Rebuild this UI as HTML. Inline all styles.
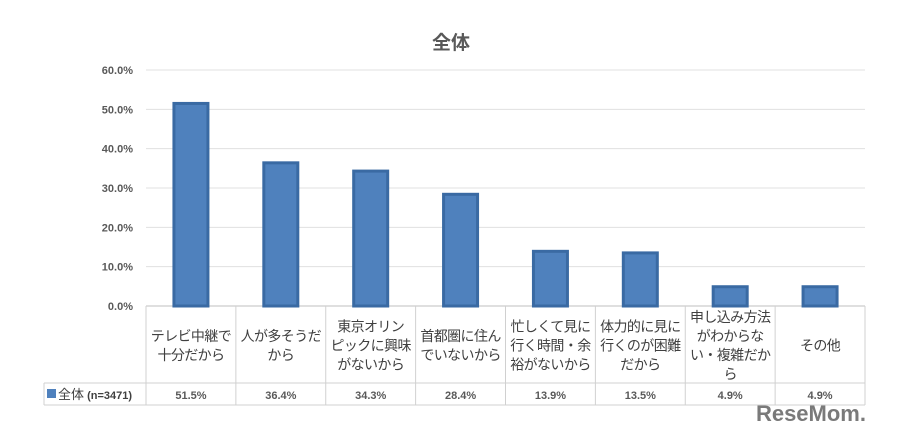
<!DOCTYPE html>
<html><head><meta charset="utf-8"><style>
body{margin:0;background:#fff;width:916px;height:434px;overflow:hidden;font-family:"Liberation Sans","Noto Sans CJK JP",sans-serif;}
svg text{font-family:"Liberation Sans","Noto Sans CJK JP",sans-serif;}
</style></head><body>
<svg id="c" width="916" height="434">
<text x="451" y="49" text-anchor="middle" font-size="19" font-weight="bold" fill="#595959">全体</text>
<g id="grid"></g><g id="bars"></g><g id="table"></g>
<text x="866" y="421" text-anchor="end" font-size="22" font-weight="bold" fill="#7a7a7a">ReseMom.</text>
</svg>
<script>
const categories=[["テレビ中継で","十分だから"],["人が多そうだ","から"],["東京オリン","ピックに興味","がないから"],["首都圏に住ん","でいないから"],["忙しくて見に","行く時間・余","裕がないから"],["体力的に見に","行くのが困難","だから"],["申し込み方法","がわからな","い・複雑だか","ら"],["その他"]];
const values=[51.5,36.4,34.3,28.4,13.9,13.5,4.9,4.9];
const ticks=[0,10,20,30,40,50,60];
const seriesName="全体";
const ns="http://www.w3.org/2000/svg";
const x0=146,x1=865,y0=306,yTop=70,maxV=60;
const cw=(x1-x0)/categories.length;
const y=v=>y0-(v/maxV)*(y0-yTop);
const xc=i=>x0+cw*(i+0.5);
function mk(t,a,p){const e=document.createElementNS(ns,t);for(const k in a)e.setAttribute(k,a[k]);p.appendChild(e);return e;}
const g=document.getElementById('grid'),b=document.getElementById('bars'),tb=document.getElementById('table');
ticks.forEach(t=>{
 const l=mk('line',{x1:x0,x2:x1,y1:y(t),y2:y(t),stroke:t==0?'#bfbfbf':'#e0e0e0'},g);
 
 
 const tx=mk('text',{x:133,y:y(t)+4,'text-anchor':'end','font-size':11,'font-weight':'bold',fill:'#595959'},g);
 tx.textContent=t.toFixed(1)+'%';
 
 
});
values.forEach((v,i)=>{
 const r=mk('rect',{x:xc(i)-17,y:y(v),width:34,height:y0-y(v),fill:'#4f81bd',stroke:'#3a6aa3','stroke-width':3},b);
 
 
});
const ty1=383,ty2=405;
mk('line',{x1:44,x2:x1,y1:ty1,y2:ty1,stroke:'#d0d0d0'},tb);
mk('line',{x1:44,x2:x1,y1:ty2,y2:ty2,stroke:'#d0d0d0'},tb);
mk('line',{x1:44,x2:44,y1:ty1,y2:ty2,stroke:'#d0d0d0'},tb);
for(let i=0;i<=categories.length;i++){mk('line',{x1:x0+cw*i,x2:x0+cw*i,y1:y0,y2:ty2,stroke:'#d0d0d0'},tb);}
categories.forEach((c,i)=>{
 const n=c.length,lh=19,start=(y0+ty1)/2-(n-1)*lh/2+6;
 c.forEach((s,j)=>{const t=mk('text',{x:xc(i),y:start+j*lh,'text-anchor':'middle','font-size':14,'letter-spacing':'-0.6',fill:'#404040'},tb);t.textContent=s;
 
 });
 const vt=mk('text',{x:xc(i),y:399,'text-anchor':'middle','font-size':11,'font-weight':'bold',fill:'#595959'},tb);
 vt.textContent=values[i].toFixed(1)+'%';
 
 
});
const lk=mk('rect',{x:47,y:389,width:9,height:9,fill:'#4f81bd'},tb);


const lt=mk('text',{x:58,y:399,'font-size':13,fill:'#404040'},tb);
lt.innerHTML=seriesName+'<tspan font-size="11" font-weight="bold"> (n=3471)</tspan>';


</script>
</body></html>
